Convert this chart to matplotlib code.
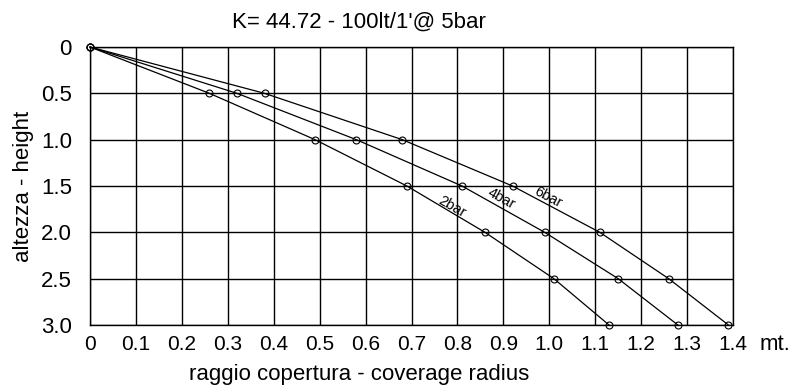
import matplotlib
matplotlib.use("Agg")
import matplotlib.pyplot as plt

plt.rcParams['font.family'] = ['Liberation Sans', 'DejaVu Sans']

heights = [0, 0.5, 1.0, 1.5, 2.0, 2.5, 3.0]
radius_2bar = [0, 0.26, 0.49, 0.69, 0.86, 1.01, 1.13]
radius_4bar = [0, 0.32, 0.58, 0.81, 0.99, 1.15, 1.28]
radius_6bar = [0, 0.38, 0.68, 0.92, 1.11, 1.26, 1.39]
series_labels = ["2bar", "4bar", "6bar"]
label_pos = [(0.787, 1.725), (0.896, 1.634), (0.997, 1.617)]
label_rot = [-30, -29, -28]

x_ticks = [0, 0.1, 0.2, 0.3, 0.4, 0.5, 0.6, 0.7, 0.8, 0.9, 1.0, 1.1, 1.2, 1.3, 1.4]
x_tick_labels = ["0", "0.1", "0.2", "0.3", "0.4", "0.5", "0.6", "0.7", "0.8", "0.9",
                 "1.0", "1.1", "1.2", "1.3", "1.4"]
y_ticks = [0, 0.5, 1.0, 1.5, 2.0, 2.5, 3.0]
y_tick_labels = ["0", "0.5", "1.0", "1.5", "2.0", "2.5", "3.0"]

fig = plt.figure(figsize=(8.07, 3.9), dpi=100)
ax = fig.add_axes([90/807, 1-325/390, 643/807, 278/390])

for xs in (radius_2bar, radius_4bar, radius_6bar):
    ax.plot(xs, heights, color='black', lw=0.9, marker='o', markersize=5,
            markerfacecolor='none', markeredgecolor='black', markeredgewidth=0.8,
            clip_on=False, zorder=3)

for lab, (lx, ly), rot in zip(series_labels, label_pos, label_rot):
    ax.text(lx, ly, lab, rotation=rot, ha='center', va='center', fontsize=10.5,
            rotation_mode='anchor')

ax.set_xlim(0, 1.4)
ax.set_ylim(3.0, 0)
ax.set_xticks(x_ticks)
ax.set_xticklabels(x_tick_labels)
ax.set_yticks(y_ticks)
ax.set_yticklabels(y_tick_labels)
ax.tick_params(axis='x', length=0, labelsize=15, pad=7)
ax.tick_params(axis='y', length=0, labelsize=16, pad=13)
ax.grid(True, color='black', lw=1.0)
ax.set_axisbelow(True)
for s in ax.spines.values():
    s.set_color('black')
    s.set_linewidth(1.0)

fig.text(359/807, 1-28/390, "K= 44.72 - 100lt/1'@ 5bar", ha='center', va='baseline', fontsize=16)
fig.text(359/807, 1-380/390, "raggio copertura - coverage radius", ha='center', va='baseline', fontsize=16)
fig.text(760/807, 1-350/390, "mt.", ha='left', va='baseline', fontsize=16)
fig.text(24/807, 1-186/390, "altezza - height", ha='center', va='center', rotation=90, fontsize=16)

fig.savefig("out.png", dpi=100)
